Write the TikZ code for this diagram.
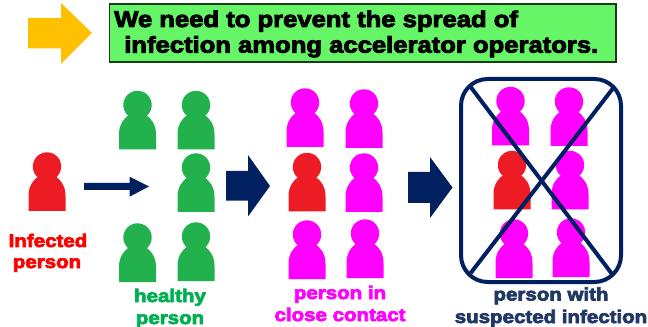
\documentclass[tikz,border=0pt]{standalone}
\usepackage{fontspec}
\setmainfont{Liberation Sans}
\newfontfamily\blackfont{Liberation Sans Bold}[FakeBold=4,FakeStretch=1.13]
\definecolor{orangeA}{HTML}{FFC000}
\definecolor{navyA}{HTML}{002060}
\definecolor{greenbox}{HTML}{66F566}
\definecolor{greenP}{HTML}{23B14D}
\definecolor{greenT}{HTML}{00B050}
\definecolor{redP}{HTML}{ED1C24}
\definecolor{magP}{HTML}{FF00FF}
\definecolor{navyT}{HTML}{1F3864}
\newcommand\person[3]{%
  \fill[#3,shift={(#1,-#2)}]
    (-18.5,0) -- (-18.5,15) .. controls (-18.5,25) and (-14,31) .. (-8,35)
    -- (8,35) .. controls (14,31) and (18.5,25) .. (18.5,15) -- (18.5,0) -- cycle;
  \fill[#3,shift={(#1,-#2)}] (0,44.5) circle[radius=14.2];}
\tikzset{x=0.75pt,y=0.75pt,
  lab/.style={anchor=base,inner sep=0,font=\blackfont\fontsize{13.6}{13.6}\selectfont},
  head/.style={anchor=base west,inner sep=0,font=\blackfont\fontsize{17}{17}\selectfont,text=black}}
\begin{document}
\begin{tikzpicture}
\useasboundingbox (0,0) rectangle (648,-327);
% top banner
\fill[orangeA] (28,-18) -- (61,-18) -- (61,-3) -- (92,-33) -- (61,-64) -- (61,-48.5) -- (28,-48.5) -- cycle;
\draw[fill=greenbox,draw=black!75!greenbox,line width=0.9pt] (109.5,-4) rectangle (616,-62);
\node[head] (t1) at (114,-27) {We need to prevent the spread of};
\node[head] (t2) at (124,-52.6) {infection among accelerator operators.};
% arrows
\fill[navyA] (84,-183) -- (129.5,-183) -- (129.5,-176.7) -- (149,-186.5) -- (129.5,-196.7) -- (129.5,-190) -- (84,-190) -- cycle;
\fill[navyA] (226,-171) -- (248,-171) -- (248,-155) -- (270,-186) -- (248,-216.5) -- (248,-200.7) -- (226,-200.7) -- cycle;
\fill[navyA] (408,-172) -- (430,-172) -- (430,-157) -- (452.5,-187.5) -- (430,-218) -- (430,-203) -- (408,-203) -- cycle;
% infected
\person{47}{211}{redP}
% healthy
\person{137.5}{149.5}{greenP}
\person{196}{149.5}{greenP}
\person{196}{212}{greenP}
\person{137.5}{282}{greenP}
\person{196}{281}{greenP}
% close contact
\person{305}{147}{magP}
\person{364}{148}{magP}
\person{307}{211.5}{redP}
\person{364}{212}{magP}
\person{307}{279}{magP}
\person{365}{278}{magP}
% suspected
\person{510.5}{145.5}{magP}
\person{569}{146}{magP}
\person{512}{209.5}{redP}
\person{570}{209.5}{magP}
\person{514}{278}{magP}
\person{571}{277}{magP}
\draw[navyA,line width=3pt,rounded corners=20pt] (461,-79) rectangle (621,-282);
\draw[navyA,line width=3pt] (470.7,-87) -- (612,-274);
\draw[navyA,line width=3pt] (614,-87) -- (470.7,-273);
% labels
\node[lab,text=red] (l1) at (48,-247) {Infected};
\node[lab,text=red] (l2) at (47,-268) {person};
\node[lab,text=greenT] (l3) at (170,-302) {healthy};
\node[lab,text=greenT] (l4) at (170,-324) {person};
\node[lab,text=magP] (l5) at (340,-299) {person in};
\node[lab,text=magP] (l6) at (340,-321) {close contact};
\node[lab,text=navyT] (l7) at (551,-300.5) {person with};
\node[lab,text=navyT] (l8) at (551,-323) {suspected infection};
\end{tikzpicture}
\end{document}
